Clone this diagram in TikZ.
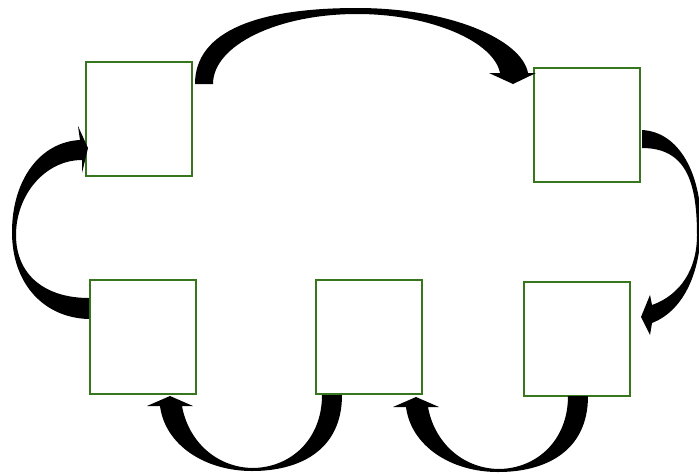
\documentclass[tikz,border=0pt]{standalone}
\usepackage{xcolor}
\usetikzlibrary{positioning,calc}
\definecolor{boxgreen}{HTML}{38761D}
\tikzset{stepbox/.style={draw=boxgreen,line width=2.2pt,fill=white,minimum width=106pt,minimum height=114pt,inner sep=0pt}  }
\tikzset{bentarrow/.style={fill=black,draw=none}  }

\begin{document}
\begin{tikzpicture}[x=1pt,y=-1pt]
	\useasboundingbox (0,0) rectangle (699,475);
		\node[stepbox] (s1) at (139,119) {};
		\node[stepbox] (s2) at (587,125) {};
		\node[stepbox] (s5) at (143,337) {};
		\node[stepbox] (s4) at (369,337) {};
		\node[stepbox] (s3) at (577,339) {};
	% s1 to s2
	\fill[bentarrow] (195,84) .. controls (195,30) and (260,8) .. (357,8) .. controls (451,8) and (522,40) .. (528,73)
		-- (536,73) -- (513,84) -- (489,73) -- (500,73)
		.. controls (494,42) and (432,14) .. (357,14) .. controls (278,14) and (213,45) .. (213,84) -- cycle;
	% s2 to s3
	\fill[bentarrow] (642,130) .. controls (680,132) and (701,175) .. (701,225) .. controls (701,270) and (685,310) .. (652,323)
		-- (650,335) -- (641,317) -- (650,295) -- (652,305)
		.. controls (680,295) and (697,270) .. (697,235) .. controls (697,180) and (685,148) .. (642,148) -- cycle;
	% s3 to s4, s4 to s5
	\foreach \dx/\dy in {0/0,246/1}{
		\fill[bentarrow,shift={(\dx,\dy)}] (342,395) .. controls (342,450) and (300,471) .. (252,471) .. controls (205,471) and (165,445) .. (160,406)
			-- (147,406) -- (170,396) -- (193,406) -- (182,406)
			.. controls (188,440) and (215,467) .. (252,468) .. controls (290,468) and (322,440) .. (322,395) -- cycle;
	}
	% s5 to s1
	\fill[bentarrow] (89,319) .. controls (45,318) and (12,285) .. (12,232) .. controls (12,180) and (40,142) .. (80,140)
		-- (78,126) -- (88,148) -- (82,173) -- (82,160)
		.. controls (45,160) and (16,195) .. (16,235) .. controls (16,275) and (45,298) .. (89,298) -- cycle;
\end{tikzpicture}
\end{document}
